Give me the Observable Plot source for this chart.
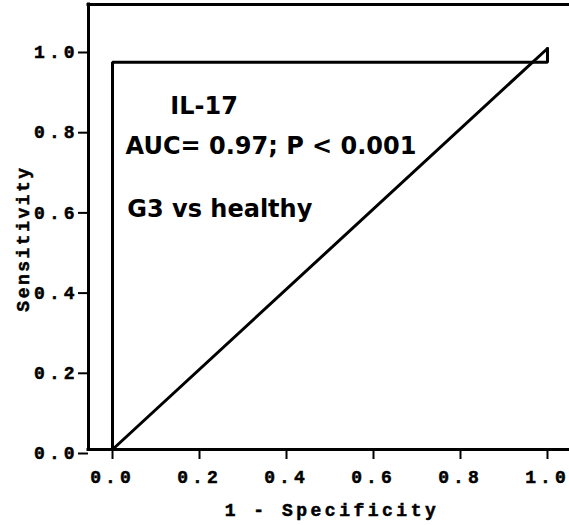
<!DOCTYPE html>
<html>
<head>
<meta charset="utf-8">
<script src="https://cdn.jsdelivr.net/npm/d3@7"></script>
<script src="https://cdn.jsdelivr.net/npm/@observablehq/plot@0.6"></script>
<style>
  html, body { margin: 0; padding: 0; background: white; overflow: hidden; }
</style>
</head>
<body>
<div id="chart"></div>
<script>
// ROC curve (1 - specificity vs sensitivity)
const fpr = [0, 0, 1, 1];
const tpr = [0, 0.966, 0.966, 1];
// reference diagonal
const refFpr = [0, 1];
const refTpr = [0, 1];
// ticks
const xTicks = [0, 0.2, 0.4, 0.6, 0.8, 1.0];
const yTicks = [0, 0.2, 0.4, 0.6, 0.8, 1.0];
// texts
const xTitle = "1 - Specificity";
const yTitle = "Sensitivity";
const notes = ["IL-17", "AUC= 0.97; P < 0.001", "G3 vs healthy"];

const X0 = -0.0552, X1 = 1.0506, Y1 = 1.1097;
const roc = fpr.map((d, i) => ({x: d, y: tpr[i]}));
const ref = refFpr.map((d, i) => ({x: d, y: refTpr[i]}));
const noteData = notes.map((t, i) => ({t, x: [0.133, 0.030, 0.034][i], y: [0.857, 0.757, 0.598][i]}));

const chart = Plot.plot({
  width: 569,
  height: 525,
  marginLeft: 88,
  marginRight: 0,
  marginTop: 4,
  marginBottom: 76,
  x: {domain: [X0, X1], label: null},
  y: {domain: [0, Y1], label: null},
  style: {fontFamily: "'Liberation Mono', monospace", background: "white", color: "black"},
  marks: [
    Plot.ruleY([0, Y1], {strokeWidth: 3, strokeLinecap: "square"}),
    Plot.ruleX([X0], {strokeWidth: 3, strokeLinecap: "square"}),
    Plot.axisX({ticks: xTicks, tickFormat: d3.format(".1f"), tickSize: 10, tickPadding: 11,
      fontSize: 18, fontWeight: "bold", strokeWidth: 2, label: null}),
    Plot.axisY({ticks: yTicks, tickFormat: d3.format(".1f"), tickSize: 10, tickPadding: 0,
      fontSize: 18, fontWeight: "bold", strokeWidth: 2, dy: 4, label: null}),
    Plot.line(ref, {x: "x", y: "y", strokeWidth: 3}),
    Plot.line(roc, {x: "x", y: "y", strokeWidth: 3, strokeLinejoin: "miter"}),
    Plot.text(noteData, {x: "x", y: "y", text: "t", textAnchor: "start",
      fontFamily: "'DejaVu Sans', sans-serif", fontWeight: "bold", fontSize: 24}),
    Plot.text([xTitle], {text: d => d, frameAnchor: "bottom", textAnchor: "middle", dx: 3, dy: 66,
      fontSize: 18, fontWeight: "bold"}),
    Plot.text([yTitle], {text: d => d, frameAnchor: "left", textAnchor: "middle", rotate: -90,
      dx: -65, dy: 11.5, fontSize: 18, fontWeight: "bold"})
  ]
});

document.getElementById("chart").appendChild(chart);
const svg = d3.select(chart);
svg.selectAll("text").style("letter-spacing", "4px")
  .style("stroke", "black").style("stroke-width", "0.5px");
svg.selectAll("text").filter(function() { return this.textContent === xTitle; })
  .style("letter-spacing", "3.5px");
svg.selectAll("text").filter(function() { return this.textContent === yTitle; })
  .style("letter-spacing", "2.5px");
svg.selectAll("g").filter(function() {
  const f = this.getAttribute("font-family");
  return f && f.includes("DejaVu");
}).selectAll("text").style("letter-spacing", "0px").style("stroke", "none");
</script>
</body>
</html>
